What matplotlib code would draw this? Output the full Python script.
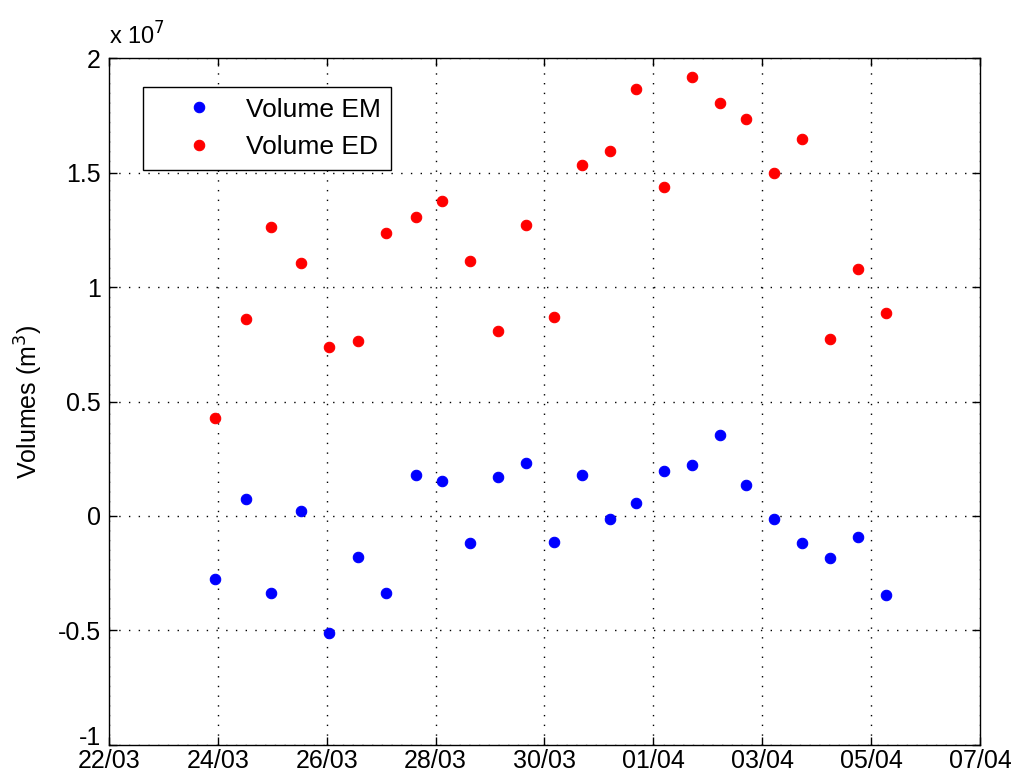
import matplotlib
matplotlib.use("Agg")
import matplotlib.pyplot as plt
import matplotlib.dates as mdates
import matplotlib.transforms as mtransforms
import pandas as pd

# Sample times (~semi-diurnal tide spacing)
times = [
    "2013-03-23 22:44", "2013-03-24 12:16", "2013-03-24 23:25", "2013-03-25 12:52",
    "2013-03-26 01:12", "2013-03-26 13:38", "2013-03-27 02:00", "2013-03-27 15:13",
    "2013-03-28 02:48", "2013-03-28 15:04", "2013-03-29 03:22", "2013-03-29 15:45",
    "2013-03-30 04:13", "2013-03-30 16:34", "2013-03-31 04:52", "2013-03-31 16:28",
    "2013-04-01 04:42", "2013-04-01 17:10", "2013-04-02 05:24", "2013-04-02 16:44",
    "2013-04-03 05:12", "2013-04-03 17:38", "2013-04-04 05:57", "2013-04-04 18:14",
    "2013-04-05 06:37",
]

# Volumes in units of 1e7 m^3
volume_em = [
    -0.277, 0.074, -0.338, 0.021, -0.513, -0.178, -0.338, 0.177, 0.153, -0.120,
    0.169, 0.230, -0.113, 0.177, -0.015, 0.055, 0.196, 0.221, 0.352, 0.134,
    -0.015, -0.120, -0.182, -0.094, -0.347,
]
volume_ed = [
    0.429, 0.861, 1.263, 1.107, 0.737, 0.764, 1.238, 1.308, 1.378, 1.115,
    0.808, 1.273, 0.869, 1.535, 1.596, 1.866, 1.438, 1.920, 1.805, 1.735,
    1.499, 1.648, 0.772, 1.077, 0.885,
]

y_ticks = [-1, -0.5, 0, 0.5, 1, 1.5, 2]
y_ticklabels = ["-1", "-0.5", "0", "0.5", "1", "1.5", "2"]
x_tick_dates = ["2013-03-22", "2013-03-24", "2013-03-26", "2013-03-28", "2013-03-30",
                "2013-04-01", "2013-04-03", "2013-04-05", "2013-04-07"]

plt.rcParams['font.family'] = ['Liberation Sans', 'DejaVu Sans']

fig = plt.figure(figsize=(10.11, 7.76), dpi=100)
ax = fig.add_axes([0.1078, 0.0403, 0.8615, 0.8846])

t = pd.to_datetime(times)
ax.plot(t, volume_em, linestyle='none', marker='o', markersize=7.5,
        markerfacecolor='#0000ff', markeredgecolor='#0000ff', markeredgewidth=0.8,
        label='Volume EM')
ax.plot(t, volume_ed, linestyle='none', marker='o', markersize=7.5,
        markerfacecolor='#ff0000', markeredgecolor='#ff0000', markeredgewidth=0.8,
        label='Volume ED')

xt = pd.to_datetime(x_tick_dates)
ax.set_xlim(xt[0], xt[-1])
ax.set_xticks(xt)
ax.xaxis.set_major_formatter(mdates.DateFormatter('%d/%m'))
ax.set_ylim(-1, 2)
ax.set_yticks(y_ticks)
ax.set_yticklabels(y_ticklabels)

ax.grid(True, color='black', linestyle=(0, (1, 6)), linewidth=1.0)
ax.tick_params(direction='in', length=6, width=1.0, top=True, right=True,
               labelsize=18, colors='black')
ax.tick_params(axis='x', pad=3)
ax.tick_params(axis='y', pad=6)
for s in ax.spines.values():
    s.set_linewidth(1.0)
    s.set_color('black')

# lift the bottom y tick label a little, as in the original
lbl = ax.get_yticklabels()[0]
lbl.set_transform(lbl.get_transform() + mtransforms.ScaledTranslation(0, 7 / 72, fig.dpi_scale_trans))

ax.set_ylabel('Volumes (m$^3$)', fontsize=18, labelpad=9)
ax.text(0.0, 1.012, r'x 10$^7$', transform=ax.transAxes, fontsize=17,
        ha='left', va='bottom')

leg = ax.legend(loc='upper left', bbox_to_anchor=(0.039, 0.958), fontsize=19,
                frameon=True, fancybox=False, edgecolor='black', framealpha=1,
                handletextpad=0.08, borderpad=0.4, labelspacing=0.52,
                handlelength=3.42, borderaxespad=0)
leg.get_frame().set_linewidth(1.0)

fig.savefig('out.png', dpi=100)
